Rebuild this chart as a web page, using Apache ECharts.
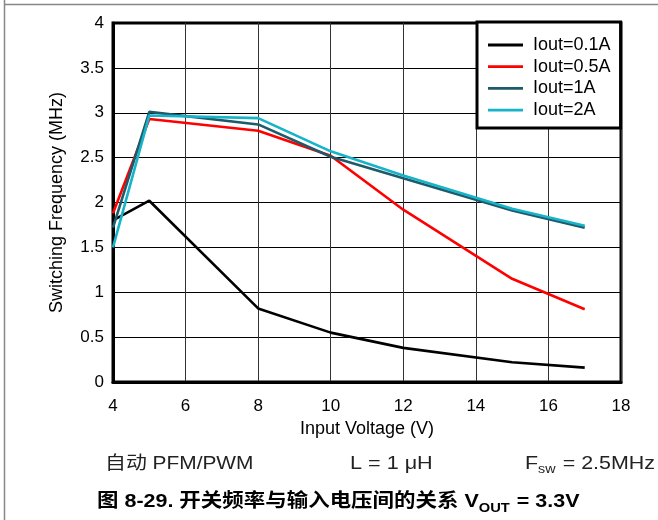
<!DOCTYPE html>
<html>
<head>
<meta charset="utf-8">
<script src="https://cdn.jsdelivr.net/npm/echarts@6/dist/echarts.min.js"></script>
<style>
html,body{margin:0;padding:0;background:#fff;}
#chart{width:658px;height:520px;}
</style>
</head>
<body>
<div id="chart"></div>
<script>
// ---- data ----
var inputVoltage = [4, 5, 8, 10, 12, 15, 17];
var iout01 = [1.80, 2.02, 0.82, 0.55, 0.38, 0.22, 0.16];
var iout05 = [1.88, 2.93, 2.80, 2.52, 1.92, 1.15, 0.81];
var iout1  = [1.72, 3.01, 2.87, 2.51, 2.27, 1.91, 1.72];
var iout2  = [1.50, 2.97, 2.94, 2.57, 2.30, 1.93, 1.74];
var seriesNames = ['Iout=0.1A', 'Iout=0.5A', 'Iout=1A', 'Iout=2A'];
var seriesColors = ['#000000', '#ff0000', '#1d5b6b', '#17b3c8'];
var yTicks = ['0', '0.5', '1', '1.5', '2', '2.5', '3', '3.5', '4'];
var xTicks = ['4', '6', '8', '10', '12', '14', '16', '18'];

var LAT = '"Liberation Sans", Arial, "Noto Sans CJK SC", sans-serif';

function pairs(ys) { return inputVoltage.map(function (x, i) { return [x, ys[i]]; }); }
var allY = [iout01, iout05, iout1, iout2];

var chart = echarts.init(document.getElementById('chart'), null, {renderer: 'canvas'});
var option = {
  animation: false,
  backgroundColor: '#fff',
  grid: {left: 113, right: 37, top: 23, bottom: 138, show: true, borderColor: '#000', borderWidth: 3, containLabel: false},
  xAxis: {
    type: 'value', min: 4, max: 18, interval: 2,
    name: 'Input Voltage (V)', nameLocation: 'middle', nameGap: 37,
    nameTextStyle: {fontFamily: LAT, fontSize: 18, color: '#000'},
    axisLine: {show: true, lineStyle: {color: '#000', width: 3}},
    axisTick: {show: false},
    axisLabel: {fontFamily: LAT, fontSize: 17, color: '#000', margin: 16,
      formatter: function (v) { return xTicks[Math.round((v - 4) / 2)]; }},
    splitLine: {show: true, lineStyle: {color: '#333', width: 1}}
  },
  yAxis: {
    type: 'value', min: 0, max: 4, interval: 0.5,
    name: 'Switching Frequency (MHz)', nameLocation: 'middle', nameGap: 47,
    nameTextStyle: {fontFamily: LAT, fontSize: 18, color: '#000'},
    axisLine: {show: true, lineStyle: {color: '#000', width: 3}},
    axisTick: {show: false},
    axisLabel: {fontFamily: LAT, fontSize: 17, color: '#000', margin: 9,
      formatter: function (v) { return yTicks[Math.round(v / 0.5)]; }},
    splitLine: {show: true, lineStyle: {color: '#000', width: 1}}
  },
  legend: {
    orient: 'vertical', left: 477, top: 22,
    data: seriesNames,
    backgroundColor: '#fff', borderColor: '#000', borderWidth: 3,
    padding: [14, 10, 9, 11],
    itemWidth: 35, itemHeight: 16, itemGap: 3.7,
    textStyle: {fontFamily: LAT, fontSize: 18, color: '#000', padding: [0, 0, 0, 5]},
    icon: 'path://M0,7 L35,7 L35,9.8 L0,9.8 Z'
  },
  series: allY.map(function (ys, i) {
    return {
      name: seriesNames[i], type: 'line', data: pairs(ys), symbol: 'none',
      lineStyle: {color: seriesColors[i], width: 2.6}, itemStyle: {color: seriesColors[i]},
      z: 3 + i
    };
  }),
  graphic: [
    {type: 'line', shape: {x1: 4.5, y1: 0, x2: 4.5, y2: 520}, style: {stroke: '#888', lineWidth: 1.5}, silent: true},
    {type: 'line', shape: {x1: 4, y1: 4.5, x2: 658, y2: 4.5}, style: {stroke: '#888', lineWidth: 1.5}, silent: true},
    {type: 'text', x: 105, y: 464, scaleX: 1.16, style: {text: '自动 PFM/PWM', font: '18px ' + LAT, fill: '#222', verticalAlign: 'middle', align: 'left'}},
    {type: 'text', x: 350, y: 464, scaleX: 1.2, style: {text: 'L = 1 μH', font: '18px ' + LAT, fill: '#222', verticalAlign: 'middle', align: 'left'}},
    {type: 'text', x: 525, y: 464, scaleX: 1.19, style: {
      text: 'F{sub|sw} = 2.5MHz', font: '18px ' + LAT, fill: '#222', verticalAlign: 'middle', align: 'left',
      rich: {sub: {fontSize: 12, fontFamily: LAT, fill: '#222', padding: [12, 1, 0, 0]}}
    }},
    {type: 'text', x: 97, y: 502, scaleX: 1.13, style: {
      text: '图 8-29. 开关频率与输入电压间的关系 V{sub|OUT} = 3.3V', font: 'bold 19px ' + LAT, fill: '#000', verticalAlign: 'middle', align: 'left',
      rich: {sub: {fontSize: 13, fontWeight: 'bold', fontFamily: LAT, fill: '#000', padding: [12, 1, 0, 0]}}
    }}
  ]
};
chart.setOption(option);
</script>
</body>
</html>
